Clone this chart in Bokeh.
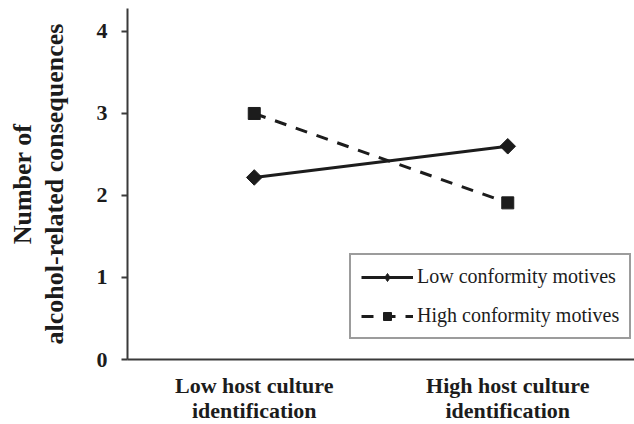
import math
from bokeh.plotting import figure
from bokeh.models import FactorRange, Range1d, Legend, LegendItem, FixedTicker, Title
from bokeh.embed import file_html
from bokeh.resources import INLINE

categories = ["Low host culture\nidentification", "High host culture\nidentification"]
low_conformity = [2.22, 2.60]
high_conformity = [3.00, 1.91]
y_ticks = [0, 1, 2, 3, 4]
y_title_inner = "alcohol-related consequences"
y_title_outer = "Number of"

SERIF = "Liberation Serif"
INK = "#1c1c1c"
AXIS = "#3a3a3a"

p = figure(frame_width=507, frame_height=351, output_backend="svg", toolbar_location=None,
           x_range=FactorRange(factors=categories, range_padding=0),
           y_range=Range1d(0, 4.28),
           min_border_left=127, min_border_right=0, min_border_top=8, min_border_bottom=65)
p.outline_line_color = None
p.grid.grid_line_color = None
p.background_fill_color = "white"
p.border_fill_color = "white"

r1 = p.line(categories, low_conformity, line_color=INK, line_width=3)
s1 = p.scatter(categories, low_conformity, marker="square", size=11, angle=math.pi / 4,
               fill_color=INK, line_color=INK)
r2 = p.line(categories, high_conformity, line_color=INK, line_width=3, line_dash="12 10")
s2 = p.scatter(categories, high_conformity, marker="square", size=12, fill_color=INK, line_color=INK)
# legend-only marker (diamond swatch for the legend; its point is not drawn)
leg_d = p.scatter(x=[categories[0]], y=[float("nan")], marker="diamond", size=13,
                  fill_color=INK, line_color=INK)

# y axis
p.yaxis.ticker = FixedTicker(ticks=y_ticks)
p.yaxis.axis_line_color = AXIS
p.yaxis.axis_line_width = 2
p.yaxis.major_tick_line_color = AXIS
p.yaxis.major_tick_line_width = 2
p.yaxis.major_tick_out = 6
p.yaxis.major_tick_in = 0
p.yaxis.minor_tick_line_color = None
p.yaxis.major_label_text_font = SERIF
p.yaxis.major_label_text_font_style = "bold"
p.yaxis.major_label_text_font_size = "22px"
p.yaxis.major_label_text_color = INK
p.yaxis.major_label_standoff = 14
p.yaxis.axis_label = y_title_inner
p.yaxis.axis_label_text_font = SERIF
p.yaxis.axis_label_text_font_style = "bold"
p.yaxis.axis_label_text_font_size = "26px"
p.yaxis.axis_label_text_color = INK
p.yaxis.axis_label_standoff = 25

p.add_layout(Title(text=y_title_outer, align="center", text_font=SERIF, text_font_style="bold",
                   text_font_size="26px", text_color=INK, standoff=0), "left")

# x axis
p.xaxis.axis_line_color = AXIS
p.xaxis.axis_line_width = 2
p.xaxis.major_tick_line_color = None
p.xaxis.minor_tick_line_color = None
p.xaxis.major_label_text_font = SERIF
p.xaxis.major_label_text_font_style = "bold"
p.xaxis.major_label_text_font_size = "22px"
p.xaxis.major_label_text_color = INK
p.xaxis.major_label_text_line_height = 1.0
p.xaxis.major_label_standoff = 7

legend = Legend(items=[LegendItem(label="Low conformity motives", renderers=[r1, leg_d]),
                       LegendItem(label="High conformity motives", renderers=[r2, s2])],
                location=(222, 20), orientation="vertical")
legend.label_text_font = SERIF
legend.label_text_font_size = "20px"
legend.label_text_color = INK
legend.border_line_color = AXIS
legend.border_line_width = 2
legend.background_fill_alpha = 1
legend.glyph_width = 52
legend.glyph_height = 20
legend.label_standoff = 4
legend.padding = 10
legend.spacing = 16
legend.margin = 0
p.add_layout(legend, "center")

open("out.html", "w").write(file_html(p, INLINE))
